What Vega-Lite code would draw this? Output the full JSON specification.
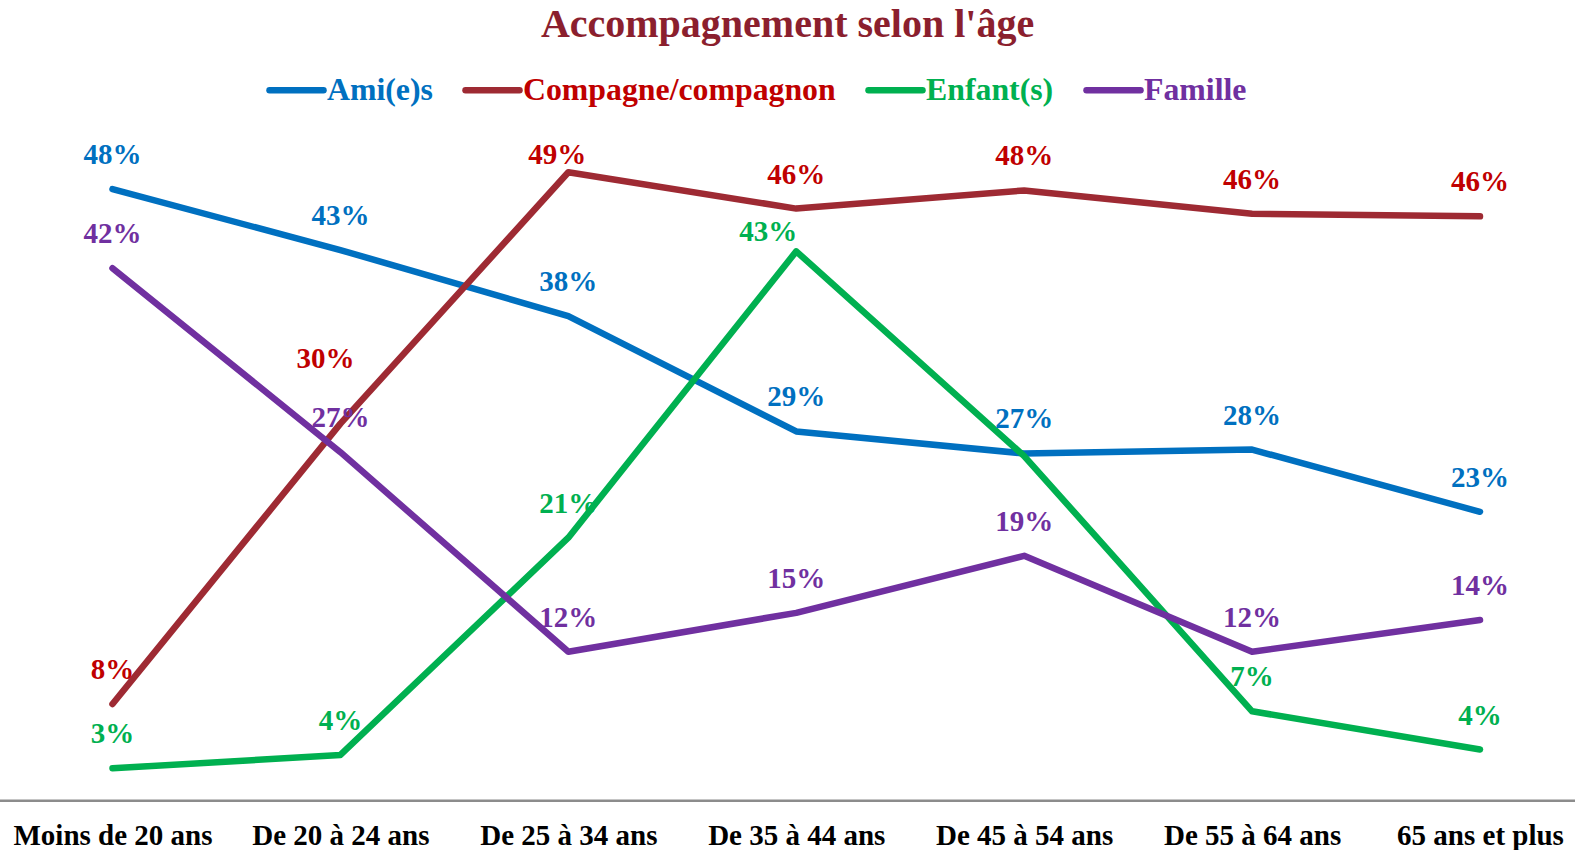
{
  "$schema": "https://vega.github.io/schema/vega-lite/v6.json",
  "width": 1575,
  "height": 641.35,
  "autosize": {"type": "none"},
  "padding": {"left": 0, "right": 0, "top": 159.35, "bottom": 49.3},
  "background": "white",
  "title": {
    "text": "Accompagnement selon l'âge",
    "font": "Liberation Serif",
    "fontSize": 40,
    "fontWeight": "bold",
    "color": "#8B1F2E",
    "anchor": "middle",
    "frame": "group",
    "baseline": "alphabetic",
    "offset": -18
  },
  "datasets": {
    "serie": [
      {"age": "Moins de 20 ans", "groupe": "Ami(e)s", "valeur": 0.477},
      {"age": "De 20 à 24 ans", "groupe": "Ami(e)s", "valeur": 0.430},
      {"age": "De 25 à 34 ans", "groupe": "Ami(e)s", "valeur": 0.379},
      {"age": "De 35 à 44 ans", "groupe": "Ami(e)s", "valeur": 0.290},
      {"age": "De 45 à 54 ans", "groupe": "Ami(e)s", "valeur": 0.273},
      {"age": "De 55 à 64 ans", "groupe": "Ami(e)s", "valeur": 0.276},
      {"age": "65 ans et plus", "groupe": "Ami(e)s", "valeur": 0.228},
      {"age": "Moins de 20 ans", "groupe": "Compagne/compagnon", "valeur": 0.0796},
      {"age": "De 20 à 24 ans", "groupe": "Compagne/compagnon", "valeur": 0.296},
      {"age": "De 25 à 34 ans", "groupe": "Compagne/compagnon", "valeur": 0.490},
      {"age": "De 35 à 44 ans", "groupe": "Compagne/compagnon", "valeur": 0.462},
      {"age": "De 45 à 54 ans", "groupe": "Compagne/compagnon", "valeur": 0.476},
      {"age": "De 55 à 64 ans", "groupe": "Compagne/compagnon", "valeur": 0.458},
      {"age": "65 ans et plus", "groupe": "Compagne/compagnon", "valeur": 0.456},
      {"age": "Moins de 20 ans", "groupe": "Enfant(s)", "valeur": 0.030},
      {"age": "De 20 à 24 ans", "groupe": "Enfant(s)", "valeur": 0.0403},
      {"age": "De 25 à 34 ans", "groupe": "Enfant(s)", "valeur": 0.208},
      {"age": "De 35 à 44 ans", "groupe": "Enfant(s)", "valeur": 0.429},
      {"age": "De 45 à 54 ans", "groupe": "Enfant(s)", "valeur": 0.271},
      {"age": "De 55 à 64 ans", "groupe": "Enfant(s)", "valeur": 0.074},
      {"age": "65 ans et plus", "groupe": "Enfant(s)", "valeur": 0.0445},
      {"age": "Moins de 20 ans", "groupe": "Famille", "valeur": 0.416},
      {"age": "De 20 à 24 ans", "groupe": "Famille", "valeur": 0.274},
      {"age": "De 25 à 34 ans", "groupe": "Famille", "valeur": 0.120},
      {"age": "De 35 à 44 ans", "groupe": "Famille", "valeur": 0.150},
      {"age": "De 45 à 54 ans", "groupe": "Famille", "valeur": 0.194},
      {"age": "De 55 à 64 ans", "groupe": "Famille", "valeur": 0.120},
      {"age": "65 ans et plus", "groupe": "Famille", "valeur": 0.1445}
    ],
    "base": [{"niveau": 0.005}]
  },
  "layer": [
    {
      "data": {"name": "base"},
      "mark": {"type": "rule", "color": "#8C8C8C", "strokeWidth": 2.5},
      "encoding": {
        "y": {"field": "niveau", "type": "quantitative", "scale": {"domain": [0.005, 0.5], "zero": false, "nice": false}, "axis": null}
      }
    },
    {
      "data": {"name": "serie"},
      "mark": {"type": "line", "strokeWidth": 6.5, "strokeCap": "round", "strokeJoin": "round"},
      "encoding": {
        "x": {
          "field": "age", "type": "ordinal",
          "sort": ["Moins de 20 ans", "De 20 à 24 ans", "De 25 à 34 ans", "De 35 à 44 ans", "De 45 à 54 ans", "De 55 à 64 ans", "65 ans et plus"],
          "scale": {"type": "point", "range": [112.5, 1480], "padding": 0},
          "axis": {
            "title": null, "domain": false, "ticks": false, "grid": false,
            "labelFont": "Liberation Serif", "labelFontSize": 29, "labelFontWeight": "bold",
            "labelColor": "#000000", "labelPadding": 21, "labelAngle": 0, "labelOverlap": false, "labelLimit": 400
          }
        },
        "y": {"field": "valeur", "type": "quantitative", "scale": {"domain": [0.005, 0.5], "zero": false, "nice": false}, "axis": null},
        "color": {
          "field": "groupe", "type": "nominal",
          "scale": {"domain": ["Ami(e)s", "Compagne/compagnon", "Enfant(s)", "Famille"], "range": ["#0070C0", "#9E2A33", "#00B050", "#7030A0"]},
          "legend": {
            "title": null, "orient": "none", "direction": "horizontal",
            "legendX": 266, "legendY": -100, "padding": 0,
            "symbolType": "stroke", "symbolSize": 2916, "symbolStrokeWidth": 6.5,
            "labelFont": "Liberation Serif", "labelFontSize": 31.8, "labelFontWeight": "bold",
            "labelOffset": 0, "columnPadding": 19, "labelLimit": 500,
            "encode": {
              "symbols": {"update": {"strokeCap": {"value": "round"}}},
              "labels": {"update": {"fill": {"signal": "datum.value == 'Ami(e)s' ? '#0070C0' : datum.value == 'Compagne/compagnon' ? '#C00000' : datum.value == 'Enfant(s)' ? '#00B050' : '#7030A0'"}}}
            }
          }
        }
      }
    },
    {
      "data": {"name": "serie"},
      "transform": [{"filter": "!(datum.groupe == 'Enfant(s)' && (datum.age == 'De 45 à 54 ans' || datum.age == 'De 35 à 44 ans')) && !(datum.groupe == 'Compagne/compagnon' && (datum.age == 'De 20 à 24 ans' || datum.age == 'De 25 à 34 ans'))"}],
      "mark": {"type": "text", "font": "Liberation Serif", "fontSize": 29, "fontWeight": "bold", "baseline": "alphabetic", "align": "center", "dy": -25},
      "encoding": {
        "x": {
          "field": "age", "type": "ordinal",
          "sort": ["Moins de 20 ans", "De 20 à 24 ans", "De 25 à 34 ans", "De 35 à 44 ans", "De 45 à 54 ans", "De 55 à 64 ans", "65 ans et plus"],
          "scale": {"type": "point", "range": [112.5, 1480], "padding": 0}
        },
        "y": {"field": "valeur", "type": "quantitative", "scale": {"domain": [0.005, 0.5], "zero": false, "nice": false}, "axis": null},
        "text": {"field": "valeur", "type": "quantitative", "format": ".0%"},
        "color": {
          "field": "groupe", "type": "nominal",
          "scale": {"domain": ["Ami(e)s", "Compagne/compagnon", "Enfant(s)", "Famille"], "range": ["#0070C0", "#C00000", "#00B050", "#7030A0"]},
          "legend": null
        }
      }
    },
    {
      "data": {"name": "serie"},
      "transform": [{"filter": "datum.groupe == 'Compagne/compagnon' && datum.age == 'De 20 à 24 ans'"}],
      "mark": {"type": "text", "font": "Liberation Serif", "fontSize": 29, "fontWeight": "bold", "baseline": "alphabetic", "align": "center", "dx": -15, "dy": -56, "color": "#C00000"},
      "encoding": {
        "x": {
          "field": "age", "type": "ordinal",
          "sort": ["Moins de 20 ans", "De 20 à 24 ans", "De 25 à 34 ans", "De 35 à 44 ans", "De 45 à 54 ans", "De 55 à 64 ans", "65 ans et plus"],
          "scale": {"type": "point", "range": [112.5, 1480], "padding": 0}
        },
        "y": {"field": "valeur", "type": "quantitative", "scale": {"domain": [0.005, 0.5], "zero": false, "nice": false}, "axis": null},
        "text": {"field": "valeur", "type": "quantitative", "format": ".0%"}
      }
    },
    {
      "data": {"name": "serie"},
      "transform": [{"filter": "datum.groupe == 'Compagne/compagnon' && datum.age == 'De 25 à 34 ans'"}],
      "mark": {"type": "text", "font": "Liberation Serif", "fontSize": 29, "fontWeight": "bold", "baseline": "alphabetic", "align": "center", "dx": -11, "dy": -8, "color": "#C00000"},
      "encoding": {
        "x": {
          "field": "age", "type": "ordinal",
          "sort": ["Moins de 20 ans", "De 20 à 24 ans", "De 25 à 34 ans", "De 35 à 44 ans", "De 45 à 54 ans", "De 55 à 64 ans", "65 ans et plus"],
          "scale": {"type": "point", "range": [112.5, 1480], "padding": 0}
        },
        "y": {"field": "valeur", "type": "quantitative", "scale": {"domain": [0.005, 0.5], "zero": false, "nice": false}, "axis": null},
        "text": {"field": "valeur", "type": "quantitative", "format": ".0%"}
      }
    },
    {
      "data": {"name": "serie"},
      "transform": [{"filter": "datum.groupe == 'Enfant(s)' && datum.age == 'De 35 à 44 ans'"}],
      "mark": {"type": "text", "font": "Liberation Serif", "fontSize": 29, "fontWeight": "bold", "baseline": "alphabetic", "align": "center", "dx": -28, "dy": -10, "color": "#00B050"},
      "encoding": {
        "x": {
          "field": "age", "type": "ordinal",
          "sort": ["Moins de 20 ans", "De 20 à 24 ans", "De 25 à 34 ans", "De 35 à 44 ans", "De 45 à 54 ans", "De 55 à 64 ans", "65 ans et plus"],
          "scale": {"type": "point", "range": [112.5, 1480], "padding": 0}
        },
        "y": {"field": "valeur", "type": "quantitative", "scale": {"domain": [0.005, 0.5], "zero": false, "nice": false}, "axis": null},
        "text": {"field": "valeur", "type": "quantitative", "format": ".0%"}
      }
    }
  ],
  "resolve": {"scale": {"color": "independent"}},
  "config": {"view": {"stroke": null}}
}
